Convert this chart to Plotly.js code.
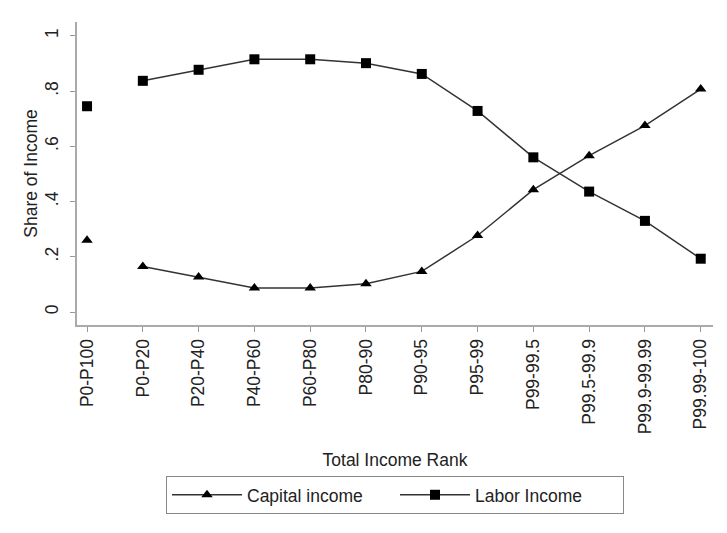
<!DOCTYPE html>
<html>
<head>
<meta charset="utf-8">
<script src="https://cdn.plot.ly/plotly-3.0.1.min.js"></script>
<style>html,body{margin:0;padding:0;background:#fff;}#chart{width:727px;height:533px;}</style>
</head>
<body>
<div id="chart"></div>
<script>
const categories = ["P0-P100","P0-P20","P20-P40","P40-P60","P60-P80","P80-90","P90-95","P95-99","P99-99.5","P99.5-99.9","P99.9-99.99","P99.99-100"];
const capitalIncome = [0.26, 0.165, 0.127, 0.087, 0.087, 0.102, 0.147, 0.277, 0.443, 0.566, 0.675, 0.807];
const laborIncome = [0.745, 0.837, 0.877, 0.915, 0.915, 0.901, 0.862, 0.728, 0.56, 0.436, 0.33, 0.193];
const yTickVals = [0, 0.2, 0.4, 0.6, 0.8, 1];
const yTickText = ["0", ".2", ".4", ".6", ".8", "1"];

const font = {family: "Liberation Sans, Arial, sans-serif", size: 17.5, color: "#222"};
const lineStyle = {color: "#333", width: 1.5};

const traces = [
  {x: categories.slice(1), y: capitalIncome.slice(1), name: "Capital income", type: "scatter", mode: "lines+markers",
   line: lineStyle, marker: {symbol: "triangle-up", size: 10, color: "#000"}},
  {x: categories.slice(1), y: laborIncome.slice(1), name: "Labor Income", type: "scatter", mode: "lines+markers",
   line: lineStyle, marker: {symbol: "square", size: 10, color: "#000"}},
  {x: categories.slice(0,1), y: capitalIncome.slice(0,1), type: "scatter", mode: "markers", showlegend: false,
   marker: {symbol: "triangle-up", size: 10, color: "#000"}},
  {x: categories.slice(0,1), y: laborIncome.slice(0,1), type: "scatter", mode: "markers", showlegend: false,
   marker: {symbol: "square", size: 10, color: "#000"}}
];

const layout = {
  width: 727, height: 533,
  margin: {l: 77, r: 14, t: 22, b: 208},
  paper_bgcolor: "#fff", plot_bgcolor: "#fff",
  font: font,
  showlegend: true,
  xaxis: {
    type: "category", categoryorder: "array", categoryarray: categories,
    range: [-0.18, 11.22], showgrid: false, zeroline: false,
    showline: true, linecolor: "#aaa", linewidth: 2,
    ticks: "outside", ticklen: 5, tickcolor: "#999", tickwidth: 1,
    tickangle: -90, tickfont: font, automargin: false,
    title: {text: "Total Income Rank", font: font, standoff: 20}
  },
  yaxis: {
    range: [-0.047, 1.05], showgrid: false, zeroline: false,
    showline: true, linecolor: "#aaa", linewidth: 2,
    ticks: "outside", ticklen: 5, tickcolor: "#999", tickwidth: 1,
    ticklabelstandoff: 5,
    tickvals: yTickVals, ticktext: yTickText, tickangle: -90, tickfont: font, automargin: false,
    title: {text: "Share of Income", font: font, standoff: 0}
  },
  legend: {
    orientation: "h", x: 0.5, xanchor: "center", y: -0.498, yanchor: "top",
    bordercolor: "#888", borderwidth: 1, bgcolor: "#fff", itemwidth: 70,
    entrywidth: 143, entrywidthmode: "pixels",
    font: font
  }
};

Plotly.newPlot("chart", traces, layout, {displayModeBar: false, staticPlot: true});
</script>
</body>
</html>
